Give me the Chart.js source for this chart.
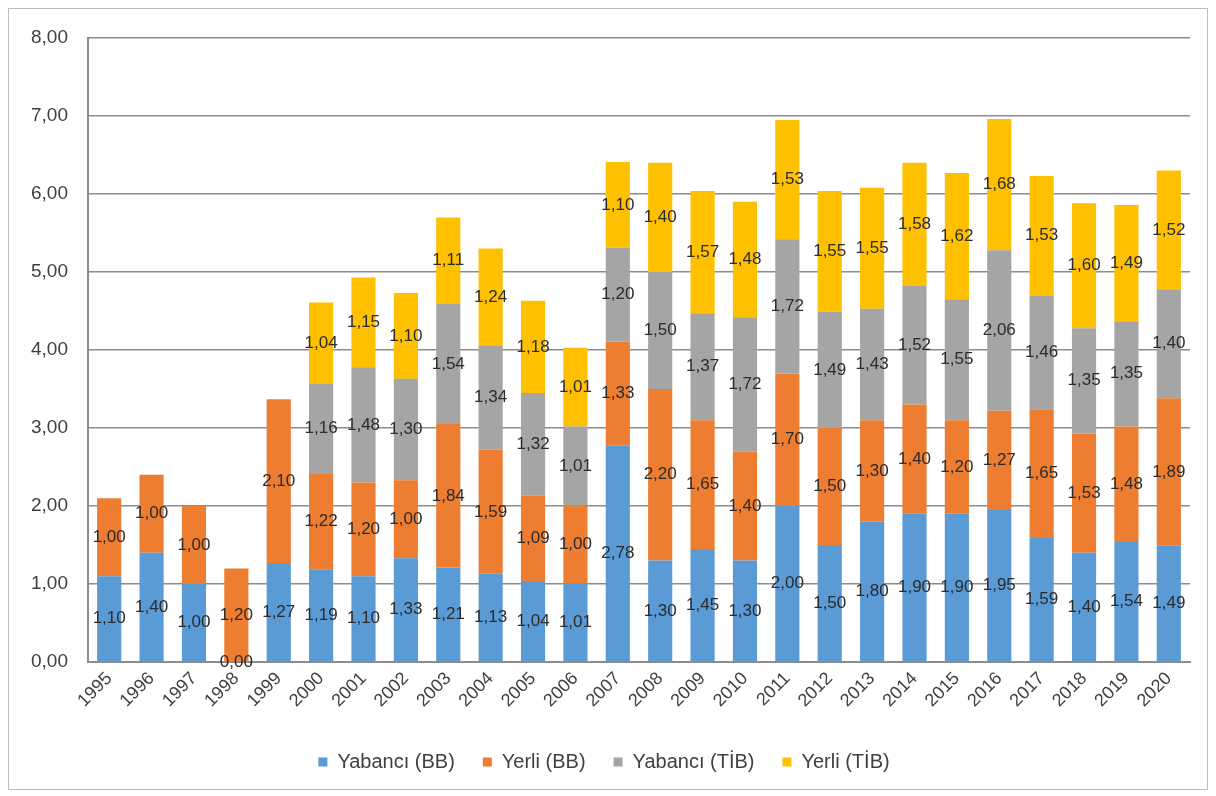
<!DOCTYPE html>
<html>
<head>
<meta charset="utf-8">
<script src="https://cdn.jsdelivr.net/npm/chart.js@4"></script>
<style>
    body { margin: 0; background: #fff; }
    #wrap { position: absolute; left: 0; top: 0; width: 1216px; height: 796px; }
    #frame { position: absolute; left: 8px; top: 8px; width: 1198px; height: 780px; border: 1px solid #bdbdbd; pointer-events: none; }
</style>
</head>
<body>
<div id="wrap">
    <canvas id="grafico" width="1216" height="796"></canvas>
    <div id="frame"></div>
</div>
<script>
    const yillar = ['1995','1996','1997','1998','1999','2000','2001','2002','2003','2004','2005','2006','2007',
                    '2008','2009','2010','2011','2012','2013','2014','2015','2016','2017','2018','2019','2020'];
    const yabanciBB = [1.10,1.40,1.00,0.00,1.27,1.19,1.10,1.33,1.21,1.13,1.04,1.01,2.78,
                       1.30,1.45,1.30,2.00,1.50,1.80,1.90,1.90,1.95,1.59,1.40,1.54,1.49];
    const yerliBB = [1.00,1.00,1.00,1.20,2.10,1.22,1.20,1.00,1.84,1.59,1.09,1.00,1.33,
                     2.20,1.65,1.40,1.70,1.50,1.30,1.40,1.20,1.27,1.65,1.53,1.48,1.89];
    const yabanciTIB = [null,null,null,null,null,1.16,1.48,1.30,1.54,1.34,1.32,1.01,1.20,
                        1.50,1.37,1.72,1.72,1.49,1.43,1.52,1.55,2.06,1.46,1.35,1.35,1.40];
    const yerliTIB = [null,null,null,null,null,1.04,1.15,1.10,1.11,1.24,1.18,1.01,1.10,
                      1.40,1.57,1.48,1.53,1.55,1.55,1.58,1.62,1.68,1.53,1.60,1.49,1.52];
    const yTicks = [0,1,2,3,4,5,6,7,8];

    const fmt = v => v.toFixed(2).replace('.', ',');
    const fontAile = '"Liberation Sans", Arial, sans-serif';

    // etiketler: her dilimin ortasına değer yaz
    const etiketPlugin = {
        id: 'etiketler',
        afterDatasetsDraw(chart) {
            const ctx = chart.ctx;
            ctx.save();
            ctx.font = '17px ' + fontAile;
            ctx.fillStyle = '#2b2b2b';
            ctx.textAlign = 'center';
            ctx.textBaseline = 'middle';
            chart.data.datasets.forEach((ds, i) => {
                const meta = chart.getDatasetMeta(i);
                meta.data.forEach((bar, j) => {
                    const v = ds.data[j];
                    if (v === null || v === undefined) return;
                    const p = bar.getProps(['x', 'y', 'base'], true);
                    ctx.fillText(fmt(v), p.x, (p.y + p.base) / 2);
                });
            });
            ctx.restore();
        }
    };

    const ctx = document.getElementById('grafico').getContext('2d');
    const grafico = new Chart(ctx, {
        type: 'bar',
        data: {
            labels: yillar,
            datasets: [
                { label: 'Yabancı (BB)', data: yabanciBB, backgroundColor: '#5B9BD5' },
                { label: 'Yerli (BB)', data: yerliBB, backgroundColor: '#ED7D31' },
                { label: 'Yabancı (TİB)', data: yabanciTIB, backgroundColor: '#A5A5A5' },
                { label: 'Yerli (TİB)', data: yerliTIB, backgroundColor: '#FFC000' }
            ]
        },
        options: {
            responsive: false,
            animation: false,
            layout: { padding: { left: 18, right: 26, top: 38, bottom: 14 } },
            datasets: { bar: { barPercentage: 0.57, categoryPercentage: 1.0 } },
            scales: {
                x: {
                    stacked: true,
                    grid: { display: false, drawTicks: false },
                    border: { color: '#8c8c8c', width: 2 },
                    ticks: {
                        minRotation: 45,
                        maxRotation: 45,
                        padding: 6,
                        color: '#404040',
                        font: { family: fontAile, size: 18 }
                    },
                    afterFit: scale => { scale.height = 62; }
                },
                y: {
                    stacked: true,
                    min: 0,
                    max: 8,
                    afterBuildTicks: scale => { scale.ticks = yTicks.map(v => ({ value: v })); },
                    grid: { color: '#8c8c8c', lineWidth: 1.5, drawTicks: false },
                    border: { color: '#8c8c8c', width: 2 },
                    ticks: {
                        padding: 20,
                        color: '#404040',
                        font: { family: fontAile, size: 19 },
                        callback: v => fmt(v)
                    },
                    afterFit: scale => { scale.width = 70; }
                }
            },
            plugins: {
                legend: {
                    position: 'bottom',
                    labels: {
                        boxWidth: 9,
                        boxHeight: 9,
                        padding: 28,
                        color: '#404040',
                        font: { family: fontAile, size: 20 }
                    }
                },
                tooltip: { enabled: false }
            }
        },
        plugins: [etiketPlugin]
    });
</script>
</body>
</html>
